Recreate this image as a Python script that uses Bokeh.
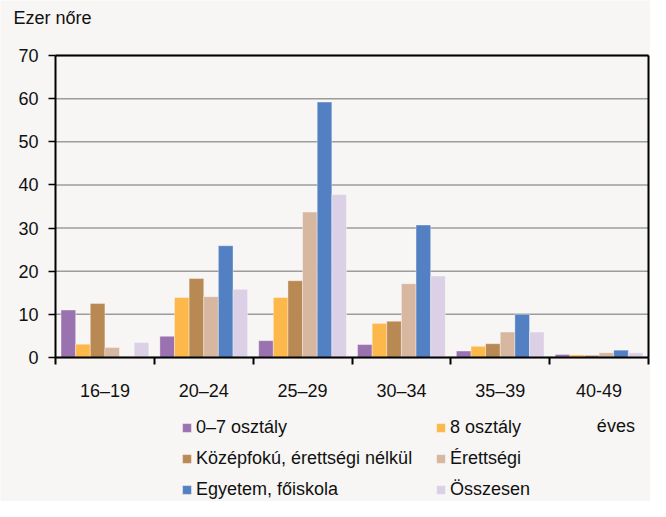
import numpy as np
from bokeh.plotting import figure
from bokeh.models import (ColumnDataSource, FixedTicker, Legend, LegendItem, Label,
                          Range1d, LinearAxis)
from bokeh.transform import dodge
from bokeh.embed import file_html
from bokeh.resources import INLINE

# ---- data ----
age_groups = ["16–19", "20–24", "25–29", "30–34", "35–39", "40-49"]
series_names = ["0–7 osztály", "8 osztály", "Középfokú, érettségi nélkül",
                "Érettségi", "Egyetem, főiskola", "Összesen"]
osztaly_0_7 = [11.0, 4.9, 3.9, 3.0, 1.5, 0.7]
osztaly_8 = [3.1, 13.9, 13.9, 7.9, 2.6, 0.6]
kozepfoku = [12.5, 18.3, 17.8, 8.4, 3.2, 0.5]
erettsegi = [2.3, 14.1, 33.7, 17.1, 5.9, 1.1]
egyetem = [0.0, 25.9, 59.2, 30.7, 10.0, 1.7]
osszesen = [3.5, 15.8, 37.8, 18.9, 5.9, 1.1]
y_ticks = [0, 10, 20, 30, 40, 50, 60, 70]
colors = ["#9B72B0", "#FDB84B", "#B98954", "#D7B7A0", "#5280C2", "#DBD0E5"]

FONT = "Liberation Sans"
TXT = "#111111"
BG = "#F7F6F4"
W, H = 650, 501

n = len(age_groups)
y_max = y_ticks[-1]

# layout (pixels): plot box left/right/top/bottom
left_px, right_px, top_px, bottom_px = 55, 648, 55, 357
ux = (right_px - left_px) / n
uy = (bottom_px - top_px) / y_max
x_range = Range1d(-left_px / ux, n + (W - right_px) / ux)
y_range = Range1d(-(H - bottom_px) / uy, y_max + top_px / uy)

series = [osztaly_0_7, osztaly_8, kozepfoku, erettsegi, egyetem, osszesen]
keys = ["s%d" % i for i in range(len(series))]
centers = np.arange(n) + 0.5
data = {"x": centers}
for k, s in zip(keys, series):
    data[k] = s
source = ColumnDataSource(data)

p = figure(width=W, height=H, output_backend="svg", toolbar_location=None,
           x_range=x_range, y_range=y_range, min_border=0,
           background_fill_color=BG, border_fill_color=BG)
p.outline_line_color = None
p.xgrid.grid_line_color = None
p.ygrid.grid_line_color = None

# horizontal grid lines across the plot box only
p.segment(x0=[0] * len(y_ticks), x1=[n] * len(y_ticks), y0=y_ticks, y1=y_ticks,
          line_color="#9C9C9C", line_width=1.5)

bw = 0.148
renderers = []
for i, k in enumerate(keys):
    off = (i - (len(keys) - 1) / 2) * bw
    r = p.vbar(x=dodge("x", off), top=k, width=bw, bottom=0, source=source,
               fill_color=colors[i], line_color="white", line_alpha=0.35, line_width=1)
    renderers.append(r)

# bottom axis at y = 0
xa = p.xaxis[0]
xa.fixed_location = 0
xa.bounds = (0, n)
xa.ticker = FixedTicker(ticks=list(centers), minor_ticks=list(range(n + 1)))
xa.major_label_overrides = {float(c): g for c, g in zip(centers, age_groups)}
xa.major_tick_line_color = None
xa.major_tick_out = 0
xa.major_tick_in = 0
xa.minor_tick_out = 7
xa.minor_tick_in = 0
xa.minor_tick_line_color = "black"
xa.minor_tick_line_width = 2
xa.axis_line_color = "black"
xa.axis_line_width = 2
xa.major_label_text_font = FONT
xa.major_label_text_font_size = "18px"
xa.major_label_text_color = TXT
xa.major_label_standoff = 16

# left axis at x = 0
ya = p.yaxis[0]
ya.fixed_location = 0
ya.bounds = (0, y_max)
ya.ticker = FixedTicker(ticks=y_ticks)
ya.minor_tick_line_color = None
ya.major_tick_out = 7
ya.major_tick_in = 0
ya.major_tick_line_color = "black"
ya.major_tick_line_width = 1.5
ya.axis_line_color = "black"
ya.axis_line_width = 2
ya.major_label_text_font = FONT
ya.major_label_text_font_size = "18px"
ya.major_label_text_color = TXT
ya.major_label_standoff = 10

# box: top and right border lines
top_ax = LinearAxis(fixed_location=y_max, bounds=(0, n), ticker=FixedTicker(ticks=[]),
                    axis_line_color="black", axis_line_width=2,
                    major_tick_line_color=None, minor_tick_line_color=None,
                    major_label_text_font_size="0px")
p.add_layout(top_ax, "above")
right_ax = LinearAxis(fixed_location=n, bounds=(0, y_max), ticker=FixedTicker(ticks=[]),
                      axis_line_color="black", axis_line_width=2,
                      major_tick_line_color=None, minor_tick_line_color=None,
                      major_label_text_font_size="0px")
p.add_layout(right_ax, "right")

# texts
p.add_layout(Label(x=(13 - left_px) / ux, y=y_max + (top_px - 17.5) / uy, text="Ezer nőre",
                   text_font=FONT, text_font_size="18px",
                   text_baseline="middle", text_align="left", text_color=TXT))
p.add_layout(Label(x=5.67, y=-(425 - bottom_px) / uy, text="éves", text_font=FONT,
                   text_font_size="18px", text_baseline="middle", text_align="center",
                   text_color=TXT))

# legends (two columns)
def make_legend(idxs, px):
    leg = Legend(items=[LegendItem(label=series_names[i], renderers=[renderers[i]]) for i in idxs],
                 location=(px, 1), orientation="vertical",
                 glyph_width=11, glyph_height=11, label_height=20, spacing=10,
                 label_standoff=4, padding=0, margin=0,
                 border_line_color=None, background_fill_alpha=0,
                 label_text_font=FONT, label_text_font_size="18px", label_text_color=TXT)
    p.add_layout(leg, "center")

make_legend([0, 2, 4], 181)
make_legend([1, 3, 5], 435)

open("out.html", "w").write(file_html(p, INLINE))
